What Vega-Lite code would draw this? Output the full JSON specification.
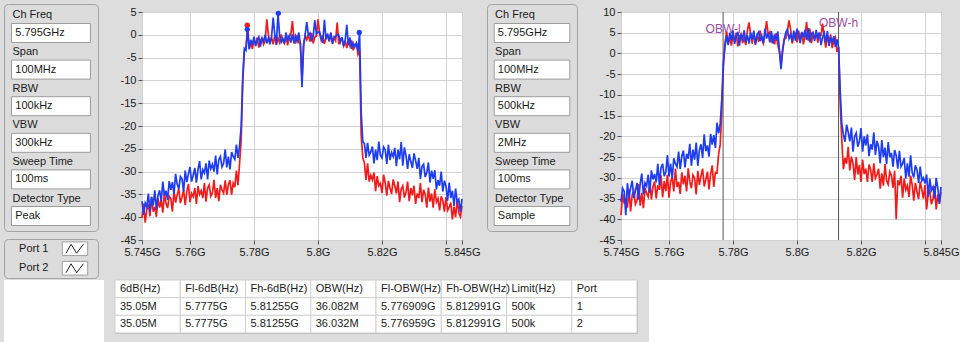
{
"$schema": "https://vega.github.io/schema/vega-lite/v6.json",
"background": "#dddddd",
"padding": {"left": 3, "top": 3, "right": 0, "bottom": 0},
"spacing": 0,
"resolve": {"scale": {"color": "independent"}},
"config": {
  "font": "Liberation Sans",
  "view": {"fill": "white", "stroke": "#8a8a8a"},
  "axis": {"labelFont": "Liberation Sans", "labelFontSize": 11, "labelColor": "#1a1a1a", "tickColor": "#555555", "tickSize": 4, "labelPadding": 2, "gridColor": "#d2d2d2", "domain": false, "labelOverlap": false},
  "text": {"font": "Liberation Sans", "fontSize": 11, "color": "#1a1a1a"}
},
"datasets": {
  "set1": [{"p":"Ch Freq","v":"5.795GHz"},{"p":"Span","v":"100MHz"},{"p":"RBW","v":"100kHz"},{"p":"VBW","v":"300kHz"},{"p":"Sweep Time","v":"100ms"},{"p":"Detector Type","v":"Peak"}],
  "set2": [{"p":"Ch Freq","v":"5.795GHz"},{"p":"Span","v":"100MHz"},{"p":"RBW","v":"500kHz"},{"p":"VBW","v":"2MHz"},{"p":"Sweep Time","v":"100ms"},{"p":"Detector Type","v":"Sample"}],
  "ports": [{"port":"Port 1"},{"port":"Port 2"}],
  "markers": [{"f":5.7779,"d":2.1,"port":"Port 2"},{"f":5.7779,"d":1.2,"port":"Port 1"},{"f":5.7876,"d":4.7,"port":"Port 1"},{"f":5.8129,"d":0.5,"port":"Port 1"}],
  "obw": [{"label":"OBW-l","f":5.776909,"ty":5.8},{"label":"OBW-h","f":5.812991,"ty":7.4}],
  "table": [
    {"r":"head","c":"6dB(Hz)","t":"6dB(Hz)"},{"r":"head","c":"Fl-6dB(Hz)","t":"Fl-6dB(Hz)"},{"r":"head","c":"Fh-6dB(Hz)","t":"Fh-6dB(Hz)"},{"r":"head","c":"OBW(Hz)","t":"OBW(Hz)"},{"r":"head","c":"Fl-OBW(Hz)","t":"Fl-OBW(Hz)"},{"r":"head","c":"Fh-OBW(Hz)","t":"Fh-OBW(Hz)"},{"r":"head","c":"Limit(Hz)","t":"Limit(Hz)"},{"r":"head","c":"Port","t":"Port"},
    {"r":"p1","c":"6dB(Hz)","t":"35.05M"},{"r":"p1","c":"Fl-6dB(Hz)","t":"5.7775G"},{"r":"p1","c":"Fh-6dB(Hz)","t":"5.81255G"},{"r":"p1","c":"OBW(Hz)","t":"36.082M"},{"r":"p1","c":"Fl-OBW(Hz)","t":"5.776909G"},{"r":"p1","c":"Fh-OBW(Hz)","t":"5.812991G"},{"r":"p1","c":"Limit(Hz)","t":"500k"},{"r":"p1","c":"Port","t":"1"},
    {"r":"p2","c":"6dB(Hz)","t":"35.05M"},{"r":"p2","c":"Fl-6dB(Hz)","t":"5.7775G"},{"r":"p2","c":"Fh-6dB(Hz)","t":"5.81255G"},{"r":"p2","c":"OBW(Hz)","t":"36.032M"},{"r":"p2","c":"Fl-OBW(Hz)","t":"5.776959G"},{"r":"p2","c":"Fh-OBW(Hz)","t":"5.812991G"},{"r":"p2","c":"Limit(Hz)","t":"500k"},{"r":"p2","c":"Port","t":"2"}
  ],
  "spec": [
{"f":5.745,"lb":-36.5,"lr":-40.1,"rb":-35.8,"rr":-39},
{"f":5.7455,"lb":-39.5,"lr":-37,"rb":-32.5,"rr":-33.8},
{"f":5.746,"lb":-36.9,"lr":-41.2,"rb":-33.3,"rr":-36.2},
{"f":5.7465,"lb":-37.7,"lr":-38.3,"rb":-39,"rr":-35},
{"f":5.747,"lb":-34.8,"lr":-37.2,"rb":-31.3,"rr":-37.2},
{"f":5.7475,"lb":-38.8,"lr":-39.8,"rb":-34.7,"rr":-32.8},
{"f":5.748,"lb":-35.6,"lr":-35.5,"rb":-32.5,"rr":-38.1},
{"f":5.7485,"lb":-37.4,"lr":-38.8,"rb":-30.7,"rr":-34.1},
{"f":5.749,"lb":-34.1,"lr":-37.7,"rb":-34.9,"rr":-33.2},
{"f":5.7495,"lb":-38.3,"lr":-39.9,"rb":-33.2,"rr":-36.4},
{"f":5.75,"lb":-35.2,"lr":-35.8,"rb":-31.2,"rr":-35.5},
{"f":5.7505,"lb":-34.1,"lr":-37.9,"rb":-35.3,"rr":-31.5},
{"f":5.751,"lb":-36.5,"lr":-36.2,"rb":-31.4,"rr":-36.7},
{"f":5.7515,"lb":-32.2,"lr":-39,"rb":-29,"rr":-33.6},
{"f":5.752,"lb":-35.3,"lr":-34.6,"rb":-34,"rr":-37.3},
{"f":5.7525,"lb":-34.2,"lr":-37,"rb":-31.2,"rr":-32.4},
{"f":5.753,"lb":-36.2,"lr":-38,"rb":-32,"rr":-33.8},
{"f":5.7535,"lb":-32.1,"lr":-35.4,"rb":-29.2,"rr":-34.6},
{"f":5.754,"lb":-34,"lr":-35.9,"rb":-33.6,"rr":-30.9},
{"f":5.7545,"lb":-32.3,"lr":-38.8,"rb":-28.2,"rr":-35.2},
{"f":5.755,"lb":-34.9,"lr":-34.2,"rb":-30.4,"rr":-32.1},
{"f":5.7555,"lb":-30.5,"lr":-36.8,"rb":-29.1,"rr":-30.9},
{"f":5.756,"lb":-32.8,"lr":-35.1,"rb":-31.1,"rr":-35},
{"f":5.7565,"lb":-33.8,"lr":-33.7,"rb":-26.6,"rr":-31.8},
{"f":5.757,"lb":-31.1,"lr":-36.9,"rb":-31.7,"rr":-32.9},
{"f":5.7575,"lb":-31.6,"lr":-35.6,"rb":-27.6,"rr":-29.4},
{"f":5.758,"lb":-34.4,"lr":-34,"rb":-26.6,"rr":-34.7},
{"f":5.7585,"lb":-29.8,"lr":-37.3,"rb":-29.6,"rr":-30.8},
{"f":5.759,"lb":-32.3,"lr":-34.4,"rb":-28.6,"rr":-33.2},
{"f":5.7595,"lb":-30.5,"lr":-32.7,"rb":-24.5,"rr":-29.2},
{"f":5.76,"lb":-29,"lr":-36.7,"rb":-29.7,"rr":-34.8},
{"f":5.7605,"lb":-32.2,"lr":-34.8,"rb":-26.6,"rr":-31},
{"f":5.761,"lb":-30.8,"lr":-35.5,"rb":-30.2,"rr":-29.8},
{"f":5.7615,"lb":-29.2,"lr":-33.6,"rb":-25.3,"rr":-33.3},
{"f":5.762,"lb":-32.4,"lr":-37.1,"rb":-26.6,"rr":-27.8},
{"f":5.7625,"lb":-29.5,"lr":-33.2,"rb":-27.4,"rr":-32.2},
{"f":5.763,"lb":-27.7,"lr":-35,"rb":-23.7,"rr":-31},
{"f":5.7635,"lb":-31.7,"lr":-34.2,"rb":-27.9,"rr":-33.9},
{"f":5.764,"lb":-29.6,"lr":-35.8,"rb":-24.8,"rr":-28.7},
{"f":5.7645,"lb":-30.3,"lr":-32.5,"rb":-23.4,"rr":-31.6},
{"f":5.765,"lb":-28.2,"lr":-36.6,"rb":-27.5,"rr":-29.5},
{"f":5.7655,"lb":-31.7,"lr":-33.6,"rb":-24.2,"rr":-33.3},
{"f":5.766,"lb":-27.6,"lr":-32.9,"rb":-25.4,"rr":-27.7},
{"f":5.7665,"lb":-29.4,"lr":-35.4,"rb":-21.8,"rr":-31},
{"f":5.767,"lb":-28.4,"lr":-34.7,"rb":-27.1,"rr":-32.5},
{"f":5.7675,"lb":-30,"lr":-31.8,"rb":-23.2,"rr":-29.3},
{"f":5.768,"lb":-26.5,"lr":-35.8,"rb":-25.6,"rr":-30.1},
{"f":5.7685,"lb":-30.6,"lr":-33.6,"rb":-21.5,"rr":-34},
{"f":5.769,"lb":-27.4,"lr":-36.5,"rb":-27.1,"rr":-28.3},
{"f":5.7695,"lb":-26.7,"lr":-32.9,"rb":-23.3,"rr":-31.7},
{"f":5.77,"lb":-29,"lr":-34,"rb":-21.9,"rr":-29.6},
{"f":5.7705,"lb":-28.2,"lr":-34.7,"rb":-25.2,"rr":-27.8},
{"f":5.771,"lb":-25.1,"lr":-31.9,"rb":-19.5,"rr":-32.1},
{"f":5.7715,"lb":-29.1,"lr":-35.1,"rb":-23.6,"rr":-30.4},
{"f":5.772,"lb":-26.7,"lr":-32.8,"rb":-22.2,"rr":-28.5},
{"f":5.7725,"lb":-29.5,"lr":-31.9,"rb":-24.9,"rr":-32.8},
{"f":5.773,"lb":-25.7,"lr":-35.1,"rb":-19.4,"rr":-29.1},
{"f":5.7735,"lb":-26.7,"lr":-32.5,"rb":-22,"rr":-27},
{"f":5.774,"lb":-27.3,"lr":-33.4,"rb":-19.7,"rr":-32.2},
{"f":5.7745,"lb":-24.1,"lr":-29.8,"rb":-22.8,"rr":-28.7},
{"f":5.775,"lb":-27,"lr":-33,"rb":-16.7,"rr":-28.8},
{"f":5.7755,"lb":-24.3,"lr":-28.1,"rb":-19.3,"rr":-24.3},
{"f":5.776,"lb":-20,"lr":-23,"rb":-17,"rr":-22},
{"f":5.7765,"lb":-9,"lr":-10,"rb":-11,"rr":-14},
{"f":5.777,"lb":-3,"lr":-3.5,"rb":-2,"rr":-3},
{"f":5.7775,"lb":-3.4,"lr":-2.8,"rb":1.7,"rr":2.4},
{"f":5.778,"lb":1.2,"lr":2.1,"rb":4.3,"rr":5.3},
{"f":5.7785,"lb":-3.2,"lr":-3,"rb":2,"rr":2.3},
{"f":5.779,"lb":-1.1,"lr":-1.7,"rb":5,"rr":4.1},
{"f":5.7795,"lb":-2.2,"lr":-3.1,"rb":3.2,"rr":1.9},
{"f":5.78,"lb":-0.4,"lr":-1,"rb":5.5,"rr":4.6},
{"f":5.7805,"lb":-2.5,"lr":-2.2,"rb":2.3,"rr":2.8},
{"f":5.781,"lb":-1.2,"lr":-0.6,"rb":4.1,"rr":5},
{"f":5.7815,"lb":-0.5,"lr":-2.8,"rb":5.2,"rr":1.7},
{"f":5.782,"lb":-2.6,"lr":-1.2,"rb":1.9,"rr":4},
{"f":5.7825,"lb":-0.8,"lr":-0.7,"rb":4.6,"rr":4.7},
{"f":5.783,"lb":-1.4,"lr":-2.1,"rb":3.5,"rr":2.5},
{"f":5.7835,"lb":0,"lr":-1.3,"rb":5.6,"rr":3.7},
{"f":5.784,"lb":-1.9,"lr":3.4,"rb":2.6,"rr":2},
{"f":5.7845,"lb":-0.7,"lr":0,"rb":4.4,"rr":5.5},
{"f":5.785,"lb":-2.1,"lr":-1.5,"rb":2.4,"rr":7.5},
{"f":5.7855,"lb":-0.3,"lr":-0.6,"rb":5.1,"rr":4.6},
{"f":5.786,"lb":3.8,"lr":-2.1,"rb":3.3,"rr":2.4},
{"f":5.7865,"lb":0,"lr":-0.2,"rb":5.5,"rr":5.1},
{"f":5.787,"lb":-2.1,"lr":-2.2,"rb":2.2,"rr":2.1},
{"f":5.7875,"lb":4.7,"lr":-0.7,"rb":4.5,"rr":4.3},
{"f":5.788,"lb":-0.1,"lr":-1.7,"rb":5.2,"rr":2.8},
{"f":5.7885,"lb":-1.6,"lr":0.1,"rb":3,"rr":5.5},
{"f":5.789,"lb":-0.8,"lr":-1.3,"rb":4.2,"rr":3.4},
{"f":5.7895,"lb":-1.9,"lr":-1.9,"rb":2.5,"rr":2.4},
{"f":5.79,"lb":0.5,"lr":-0.3,"rb":6,"rr":4.8},
{"f":5.7905,"lb":-1.1,"lr":-2.3,"rb":3.6,"rr":7.8},
{"f":5.791,"lb":-0.2,"lr":-0.5,"rb":4.9,"rr":4.5},
{"f":5.7915,"lb":-1.7,"lr":0,"rb":2.7,"rr":5.2},
{"f":5.792,"lb":0.1,"lr":3,"rb":5.4,"rr":3},
{"f":5.7925,"lb":-1.9,"lr":-0.8,"rb":2.4,"rr":4},
{"f":5.793,"lb":-0.3,"lr":-1.9,"rb":4.6,"rr":2.2},
{"f":5.7935,"lb":-1.3,"lr":-0.1,"rb":3.1,"rr":4.9},
{"f":5.794,"lb":0.5,"lr":-1.7,"rb":5.3,"rr":2},
{"f":5.7945,"lb":-2,"lr":-2,"rb":1,"rr":0.5},
{"f":5.795,"lb":-11.5,"lr":-10,"rb":-3.8,"rr":-3},
{"f":5.7955,"lb":-2.5,"lr":-2,"rb":0.5,"rr":1},
{"f":5.796,"lb":0.1,"lr":-0.2,"rb":3.3,"rr":3.5},
{"f":5.7965,"lb":2.8,"lr":-1.1,"rb":5.1,"rr":3.6},
{"f":5.797,"lb":-0.1,"lr":0.1,"rb":5.8,"rr":5.4},
{"f":5.7975,"lb":0.4,"lr":-1.5,"rb":3.6,"rr":8},
{"f":5.798,"lb":-1.1,"lr":0.4,"rb":4.6,"rr":5.8},
{"f":5.7985,"lb":-0.4,"lr":-1.9,"rb":2.8,"rr":2.4},
{"f":5.799,"lb":3.2,"lr":-0.5,"rb":5.5,"rr":4.5},
{"f":5.7995,"lb":0.2,"lr":-0.3,"rb":3.1,"rr":4.8},
{"f":5.8,"lb":0.6,"lr":3.4,"rb":6,"rr":2.7},
{"f":5.8005,"lb":0.6,"lr":0.3,"rb":4.2,"rr":5.5},
{"f":5.801,"lb":-0.7,"lr":-1.2,"rb":2.5,"rr":3.4},
{"f":5.8015,"lb":-1.8,"lr":-0.1,"rb":5.2,"rr":5.1},
{"f":5.802,"lb":3.3,"lr":-2,"rb":3.9,"rr":2.2},
{"f":5.8025,"lb":-1,"lr":-0.7,"rb":5.7,"rr":4.3},
{"f":5.803,"lb":0.2,"lr":0,"rb":3.3,"rr":7.6},
{"f":5.8035,"lb":-1.4,"lr":-1.5,"rb":6.1,"rr":3.1},
{"f":5.804,"lb":0.5,"lr":0.4,"rb":2.7,"rr":6},
{"f":5.8045,"lb":-1.9,"lr":-2,"rb":4.8,"rr":2.5},
{"f":5.805,"lb":-0.5,"lr":-0.6,"rb":5.1,"rr":4.6},
{"f":5.8055,"lb":-0.4,"lr":-1.3,"rb":3,"rr":3.7},
{"f":5.806,"lb":0,"lr":2.7,"rb":5.7,"rr":5.1},
{"f":5.8065,"lb":-0.1,"lr":-2.1,"rb":3.5,"rr":2.6},
{"f":5.807,"lb":-1.6,"lr":-0.9,"rb":5.1,"rr":4.5},
{"f":5.8075,"lb":-0.5,"lr":-0.8,"rb":2,"rr":4.4},
{"f":5.808,"lb":-2.5,"lr":-2.4,"rb":4,"rr":7.2},
{"f":5.8085,"lb":-1.2,"lr":-1.3,"rb":5,"rr":3.8},
{"f":5.809,"lb":2.2,"lr":-2.9,"rb":2.6,"rr":1.4},
{"f":5.8095,"lb":-2.3,"lr":-1.1,"rb":5.4,"rr":4.3},
{"f":5.81,"lb":-0.6,"lr":-2.5,"rb":1.8,"rr":2.4},
{"f":5.8105,"lb":-3.1,"lr":-1.2,"rb":3.8,"rr":4.6},
{"f":5.811,"lb":-1.8,"lr":-3.4,"rb":2.8,"rr":1.3},
{"f":5.8115,"lb":-2.6,"lr":-2.4,"rb":4.2,"rr":3},
{"f":5.812,"lb":-1.8,"lr":-1.9,"rb":1.6,"rr":3.9},
{"f":5.8125,"lb":-3.6,"lr":-4.3,"rb":3.4,"rr":0.4},
{"f":5.813,"lb":0.4,"lr":-3.5,"rb":1.5,"rr":1.5},
{"f":5.8135,"lb":-17,"lr":-22,"rb":-9,"rr":-12},
{"f":5.814,"lb":-23.5,"lr":-27,"rb":-17,"rr":-21},
{"f":5.8145,"lb":-23.8,"lr":-28.1,"rb":-19.6,"rr":-27.9},
{"f":5.815,"lb":-27,"lr":-31.8,"rb":-21.3,"rr":-25.2},
{"f":5.8155,"lb":-23.7,"lr":-28.2,"rb":-17.2,"rr":-26.6},
{"f":5.816,"lb":-26.4,"lr":-32.2,"rb":-19,"rr":-22.5},
{"f":5.8165,"lb":-25.7,"lr":-30.8,"rb":-21.2,"rr":-28.2},
{"f":5.817,"lb":-24.5,"lr":-31.8,"rb":-17.9,"rr":-24.9},
{"f":5.8175,"lb":-28.2,"lr":-30.2,"rb":-23.7,"rr":-26.5},
{"f":5.818,"lb":-25.2,"lr":-34.3,"rb":-20,"rr":-30.5},
{"f":5.8185,"lb":-27.5,"lr":-31,"rb":-19.2,"rr":-25},
{"f":5.819,"lb":-23.4,"lr":-33.1,"rb":-22.5,"rr":-29.2},
{"f":5.8195,"lb":-26.4,"lr":-32.6,"rb":-21.2,"rr":-26.9},
{"f":5.82,"lb":-27,"lr":-34.7,"rb":-18,"rr":-31},
{"f":5.8205,"lb":-24.6,"lr":-30.7,"rb":-23.7,"rr":-25.6},
{"f":5.821,"lb":-25.2,"lr":-32.4,"rb":-20,"rr":-29.1},
{"f":5.8215,"lb":-28.3,"lr":-35.3,"rb":-22.2,"rr":-27.8},
{"f":5.822,"lb":-24.1,"lr":-32,"rb":-19.5,"rr":-31},
{"f":5.8225,"lb":-27.5,"lr":-33.6,"rb":-24.8,"rr":-26.8},
{"f":5.823,"lb":-25.8,"lr":-34.9,"rb":-21.9,"rr":-28},
{"f":5.8235,"lb":-26.7,"lr":-31.7,"rb":-23.2,"rr":-31},
{"f":5.824,"lb":-24.8,"lr":-33.1,"rb":-19,"rr":-26.5},
{"f":5.8245,"lb":-28.8,"lr":-34.8,"rb":-24.5,"rr":-30.1},
{"f":5.825,"lb":-25.2,"lr":-32.2,"rb":-21.1,"rr":-29.2},
{"f":5.8255,"lb":-27.3,"lr":-36.7,"rb":-22.5,"rr":-27.8},
{"f":5.826,"lb":-23.5,"lr":-33.8,"rb":-26.5,"rr":-32.6},
{"f":5.8265,"lb":-28.7,"lr":-33.1,"rb":-20.9,"rr":-28.9},
{"f":5.827,"lb":-24.7,"lr":-35.7,"rb":-25,"rr":-31.9},
{"f":5.8275,"lb":-26.5,"lr":-34.6,"rb":-22.7,"rr":-26.7},
{"f":5.828,"lb":-29.4,"lr":-32.2,"rb":-26.7,"rr":-30.7},
{"f":5.8285,"lb":-26.2,"lr":-36.5,"rb":-21.4,"rr":-31.6},
{"f":5.829,"lb":-27.8,"lr":-33.6,"rb":-25,"rr":-28.5},
{"f":5.8295,"lb":-29.2,"lr":-35.2,"rb":-24,"rr":-29.4},
{"f":5.83,"lb":-26,"lr":-33.1,"rb":-27.3,"rr":-32.4},
{"f":5.8305,"lb":-27.6,"lr":-37.1,"rb":-23.3,"rr":-28.3},
{"f":5.831,"lb":-29.4,"lr":-34.8,"rb":-24.6,"rr":-40},
{"f":5.8315,"lb":-27,"lr":-35.8,"rb":-27.8,"rr":-30.6},
{"f":5.832,"lb":-31.6,"lr":-32.5,"rb":-23.5,"rr":-31.8},
{"f":5.8325,"lb":-28.9,"lr":-36.7,"rb":-27.3,"rr":-29.5},
{"f":5.833,"lb":-28.4,"lr":-34,"rb":-26.6,"rr":-34.8},
{"f":5.8335,"lb":-31.2,"lr":-35,"rb":-25.2,"rr":-30.2},
{"f":5.834,"lb":-30.2,"lr":-37.9,"rb":-30.2,"rr":-32.9},
{"f":5.8345,"lb":-28,"lr":-33.5,"rb":-26.5,"rr":-31.9},
{"f":5.835,"lb":-32.4,"lr":-36.6,"rb":-29.7,"rr":-34.6},
{"f":5.8355,"lb":-29.8,"lr":-34.8,"rb":-24.6,"rr":-29.5},
{"f":5.836,"lb":-31.6,"lr":-37.9,"rb":-28.8,"rr":-31.7},
{"f":5.8365,"lb":-29.7,"lr":-33.9,"rb":-29.9,"rr":-35.5},
{"f":5.837,"lb":-33.9,"lr":-36.7,"rb":-27,"rr":-31.2},
{"f":5.8375,"lb":-31.9,"lr":-35.9,"rb":-28.1,"rr":-33.3},
{"f":5.838,"lb":-33.1,"lr":-38.5,"rb":-31.2,"rr":-35.1},
{"f":5.8385,"lb":-30,"lr":-35.4,"rb":-27.3,"rr":-30.9},
{"f":5.839,"lb":-34.4,"lr":-36.4,"rb":-30.7,"rr":-32.8},
{"f":5.8395,"lb":-32,"lr":-38.8,"rb":-30,"rr":-35},
{"f":5.84,"lb":-33.2,"lr":-35.6,"rb":-31.4,"rr":-31.7},
{"f":5.8405,"lb":-36.4,"lr":-38.5,"rb":-29.2,"rr":-37.6},
{"f":5.841,"lb":-32.4,"lr":-37.8,"rb":-34.6,"rr":-33.8},
{"f":5.8415,"lb":-35.8,"lr":-36.8,"rb":-30.2,"rr":-33.1},
{"f":5.842,"lb":-34.2,"lr":-40.5,"rb":-33,"rr":-36.4},
{"f":5.8425,"lb":-37.5,"lr":-37.7,"rb":-32.2,"rr":-35.1},
{"f":5.843,"lb":-33.7,"lr":-40,"rb":-35,"rr":-32},
{"f":5.8435,"lb":-36.7,"lr":-36.1,"rb":-30,"rr":-37.6},
{"f":5.844,"lb":-36.1,"lr":-39.1,"rb":-32.4,"rr":-34},
{"f":5.8445,"lb":-38.9,"lr":-39.9,"rb":-36.3,"rr":-36.1},
{"f":5.845,"lb":-36,"lr":-37.5,"rb":-32.2,"rr":-33.4}
  ]
},
"vconcat": [
  {
    "spacing": 5,
    "hconcat": [
      {
        "spacing": 8,
        "bounds": "flush",
        "vconcat": [
          {
            "width": 94, "height": 227,
            "view": {"fill": "#dcdcdc", "stroke": "#a3a3a3", "cornerRadius": 4},
            "data": {"name": "set1"},
            "encoding": {"y": {"field": "p", "type": "nominal", "sort": null, "axis": null, "scale": {"paddingInner": 0.481, "paddingOuter": 0.3415, "align": 0.78}}},
            "layer": [
              {"mark": {"type": "rect", "fill": "white", "stroke": "#9c9c9c", "strokeWidth": 1},
               "encoding": {"x": {"datum": 0.08, "type": "quantitative", "scale": {"domain": [0, 1]}, "axis": null}, "x2": {"datum": 0.92}}},
              {"mark": {"type": "text", "align": "left", "baseline": "bottom", "dy": -3},
               "encoding": {"x": {"datum": 0.09, "type": "quantitative"}, "y": {"field": "p", "type": "nominal", "sort": null, "bandPosition": 0}, "text": {"field": "p"}}},
              {"mark": {"type": "text", "align": "left", "baseline": "middle"},
               "encoding": {"x": {"datum": 0.12, "type": "quantitative"}, "text": {"field": "v"}}}
            ]
          },
          {
            "width": 94, "height": 39,
            "view": {"fill": "#dcdcdc", "stroke": "#a3a3a3", "cornerRadius": 4},
            "data": {"name": "ports"},
            "encoding": {"y": {"field": "port", "type": "nominal", "sort": null, "axis": null, "scale": {"paddingInner": 0.3, "paddingOuter": 0.15}}},
            "layer": [
              {"mark": {"type": "rect", "fill": "white", "stroke": "#a0a0a0"},
               "encoding": {"x": {"datum": 0.62, "type": "quantitative", "scale": {"domain": [0, 1]}, "axis": null}, "x2": {"datum": 0.89}}},
              {"mark": {"type": "point", "shape": "M-0.8,0.4L-0.35,-0.4L0.15,0.4L0.75,-0.4", "filled": false, "size": 500, "strokeWidth": 1, "opacity": 1, "color": "#222222"},
               "encoding": {"x": {"datum": 0.755, "type": "quantitative"}}},
              {"mark": {"type": "text", "align": "left", "baseline": "middle"},
               "encoding": {"x": {"datum": 0.16, "type": "quantitative"}, "text": {"field": "port"}}}
            ]
          }
        ]
      },
      {"width": 10, "height": 1, "view": {"fill": null, "stroke": null}, "data": {"values": []}, "mark": "rect", "encoding": {}},
      {
        "spacing": 7,
        "bounds": "flush",
        "vconcat": [
          {"width": 1, "height": 1, "view": {"fill": null, "stroke": null}, "data": {"values": []}, "mark": "rect", "encoding": {}},
          {
            "width": 320, "height": 228,
            "data": {"name": "spec"},
            "encoding": {
              "x": {"field": "f", "type": "quantitative", "scale": {"domain": [5.745, 5.845], "nice": false, "zero": false},
                    "axis": {"title": null, "values": [5.745, 5.76, 5.78, 5.8, 5.82, 5.84, 5.845], "tickCount": 10, "labelExpr": "datum.value == 5.84 ? '' : datum.value + 'G'", "labelOverlap": false, "labelFlush": false, "grid": true}}
            },
            "layer": [
              {"mark": {"type": "line", "color": "#f01c1c", "strokeWidth": 1.7},
               "encoding": {"y": {"field": "lr", "type": "quantitative", "scale": {"domain": [-45, 5], "nice": false, "zero": false},
                                  "axis": {"title": null, "values": [-45, -40, -35, -30, -25, -20, -15, -10, -5, 0, 5], "tickCount": 15, "labelExpr": "'' + datum.value", "grid": true, "labelOverlap": false}}}},
              {"mark": {"type": "line", "color": "#1e3df0", "strokeWidth": 1.7},
               "encoding": {"y": {"field": "lb", "type": "quantitative"}}},
              {"data": {"name": "markers"}, "mark": {"type": "point", "filled": true, "size": 28, "opacity": 1},
               "encoding": {"y": {"field": "d", "type": "quantitative"},
                            "color": {"field": "port", "type": "nominal", "scale": {"domain": ["Port 1", "Port 2"], "range": ["#1e3df0", "#f01c1c"]}, "legend": null}}}
            ]
          }
        ]
      },
      {
        "width": 90, "height": 227,
        "view": {"fill": "#dcdcdc", "stroke": "#a3a3a3", "cornerRadius": 4},
        "data": {"name": "set2"},
        "encoding": {"y": {"field": "p", "type": "nominal", "sort": null, "axis": null, "scale": {"paddingInner": 0.481, "paddingOuter": 0.3415, "align": 0.78}}},
        "layer": [
          {"mark": {"type": "rect", "fill": "white", "stroke": "#9c9c9c", "strokeWidth": 1},
           "encoding": {"x": {"datum": 0.08, "type": "quantitative", "scale": {"domain": [0, 1]}, "axis": null}, "x2": {"datum": 0.92}}},
          {"mark": {"type": "text", "align": "left", "baseline": "bottom", "dy": -3},
           "encoding": {"x": {"datum": 0.09, "type": "quantitative"}, "y": {"field": "p", "type": "nominal", "sort": null, "bandPosition": 0}, "text": {"field": "p"}}},
          {"mark": {"type": "text", "align": "left", "baseline": "middle"},
           "encoding": {"x": {"datum": 0.12, "type": "quantitative"}, "text": {"field": "v"}}}
        ]
      },
      {"width": 10, "height": 1, "view": {"fill": null, "stroke": null}, "data": {"values": []}, "mark": "rect", "encoding": {}},
      {
        "spacing": 7,
        "bounds": "flush",
        "vconcat": [
          {"width": 1, "height": 1, "view": {"fill": null, "stroke": null}, "data": {"values": []}, "mark": "rect", "encoding": {}},
          {
            "width": 320, "height": 228,
            "data": {"name": "spec"},
            "encoding": {
              "x": {"field": "f", "type": "quantitative", "scale": {"domain": [5.745, 5.845], "nice": false, "zero": false},
                    "axis": {"title": null, "values": [5.745, 5.76, 5.78, 5.8, 5.82, 5.84, 5.845], "tickCount": 10, "labelExpr": "datum.value == 5.84 ? '' : datum.value + 'G'", "labelOverlap": false, "labelFlush": false, "grid": true}}
            },
            "layer": [
              {"data": {"name": "obw"}, "mark": {"type": "rule", "color": "#555555", "strokeWidth": 1},
               "encoding": {"y": {"datum": -45, "type": "quantitative", "scale": {"domain": [-45, 10], "nice": false, "zero": false},
                                  "axis": {"title": null, "values": [-45, -40, -35, -30, -25, -20, -15, -10, -5, 0, 5, 10], "tickCount": 15, "labelExpr": "'' + datum.value", "grid": true, "labelOverlap": false}},
                            "y2": {"datum": 10}}},
              {"data": {"name": "obw"}, "mark": {"type": "text", "color": "#9b4aa8", "fontSize": 12, "align": "center", "baseline": "middle"},
               "encoding": {"y": {"field": "ty", "type": "quantitative"}, "text": {"field": "label"}}},
              {"mark": {"type": "line", "color": "#f01c1c", "strokeWidth": 1.7},
               "encoding": {"y": {"field": "rr", "type": "quantitative"}}},
              {"mark": {"type": "line", "color": "#1e3df0", "strokeWidth": 1.7},
               "encoding": {"y": {"field": "rb", "type": "quantitative"}}}
            ]
          }
        ]
      }
    ]
  },
  {
    "spacing": 0,
    "hconcat": [
      {"width": 100, "height": 65, "view": {"fill": "white", "stroke": null}, "data": {"values": []}, "mark": "rect", "encoding": {}},
      {"width": 10, "height": 1, "view": {"fill": null, "stroke": null}, "data": {"values": []}, "mark": "rect", "encoding": {}},
      {
        "width": 522, "height": 53,
        "view": {"fill": "white", "stroke": "#b4b4b4"},
        "data": {"name": "table"},
        "encoding": {
          "x": {"field": "c", "type": "nominal", "sort": null, "axis": null, "scale": {"paddingInner": 0, "paddingOuter": 0}},
          "y": {"field": "r", "type": "nominal", "sort": null, "axis": null, "scale": {"paddingInner": 0, "paddingOuter": 0}}
        },
        "layer": [
          {"mark": {"type": "rect", "fill": "white", "stroke": "#d0d0d0", "strokeWidth": 1}},
          {"mark": {"type": "text", "align": "left", "baseline": "middle", "dx": 5},
           "encoding": {"x": {"field": "c", "type": "nominal", "sort": null, "bandPosition": 0}, "text": {"field": "t"}}}
        ]
      },
      {"width": 11, "height": 1, "view": {"fill": null, "stroke": null}, "data": {"values": []}, "mark": "rect", "encoding": {}},
      {"width": 320, "height": 65, "view": {"fill": "white", "stroke": null}, "data": {"values": []}, "mark": "rect", "encoding": {}}
    ]
  }
]
}
